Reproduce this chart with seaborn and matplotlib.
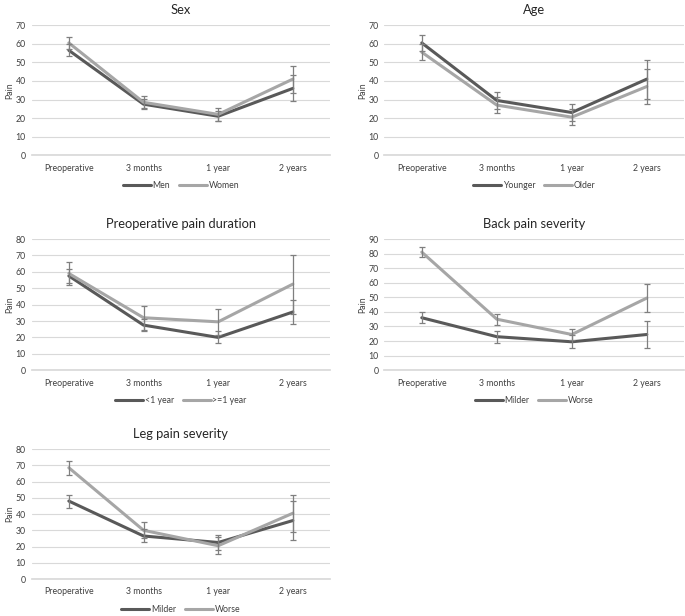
import pandas as pd
import matplotlib.pyplot as plt
import seaborn as sns

sns.set_theme(style="white")
plt.rcParams['font.family'] = ['Lato', 'DejaVu Sans']

# Data
times = ['Preoperative', '3 months', '1 year', '2 years']

sex_groups = ['Men', 'Women']
sex_mean = [[56.5, 27.5, 21.0, 36.0], [60.5, 28.5, 22.0, 41.0]]
sex_err = [[3.2, 2.6, 2.8, 7.0], [3.4, 3.2, 3.3, 7.3]]

age_groups = ['Younger', 'Older']
age_mean = [[60.5, 29.5, 23.0, 41.0], [55.5, 27.0, 20.5, 37.0]]
age_err = [[4.5, 4.6, 4.8, 10.5], [4.3, 4.3, 4.4, 9.2]]

dur_groups = ['<1 year', '>=1 year']
dur_mean = [[57.5, 27.5, 20.0, 35.5], [59.0, 32.0, 29.5, 52.5]]
dur_err = [[4.5, 3.8, 3.7, 7.5], [6.8, 7.2, 8.0, 18.0]]

back_groups = ['Milder', 'Worse']
back_mean = [[36.0, 23.0, 19.5, 24.5], [81.0, 35.0, 24.5, 49.5]]
back_err = [[3.6, 4.0, 4.5, 9.5], [3.3, 3.8, 4.0, 9.7]]

leg_groups = ['Milder', 'Worse']
leg_mean = [[48.0, 26.5, 22.5, 36.0], [68.5, 30.0, 20.5, 40.5]]
leg_err = [[4.0, 4.0, 4.5, 12.0], [4.3, 5.0, 5.2, 11.3]]

panels = [
    ('Sex', sex_groups, sex_mean, sex_err, 70),
    ('Age', age_groups, age_mean, age_err, 70),
    ('Preoperative pain duration', dur_groups, dur_mean, dur_err, 80),
    ('Back pain severity', back_groups, back_mean, back_err, 90),
    ('Leg pain severity', leg_groups, leg_mean, leg_err, 80),
]

positions = [
    [0.046, 0.748, 0.436, 0.211],
    [0.561, 0.748, 0.438, 0.211],
    [0.046, 0.399, 0.436, 0.213],
    [0.561, 0.399, 0.438, 0.213],
    [0.046, 0.060, 0.436, 0.211],
]

colors = ['#595959', '#a6a6a6']

fig = plt.figure(figsize=(6.85, 6.16), dpi=100)

for (title, groups, means, errs, ymax), pos in zip(panels, positions):
    ax = fig.add_axes(pos)
    rows = []
    for g, m, e in zip(groups, means, errs):
        for t, v, s in zip(times, m, e):
            rows.append({'time': t, 'pain': v, 'err': s, 'group': g})
    df = pd.DataFrame(rows)
    sns.lineplot(data=df, x='time', y='pain', hue='group', hue_order=groups,
                 palette=colors, linewidth=2.2, sort=False, ax=ax, zorder=3)
    for g in groups:
        sub = df[df['group'] == g]
        ax.errorbar(range(len(times)), sub['pain'], yerr=sub['err'], fmt='none',
                    ecolor='#7f7f7f', elinewidth=0.9, capsize=2.5, capthick=0.9, zorder=4)
    ax.set_xlim(-0.5, len(times) - 0.5)
    ax.set_ylim(0, ymax)
    ax.set_yticks(range(0, ymax + 1, 10))
    ax.grid(axis='y', color='#d9d9d9', linewidth=0.8)
    ax.set_axisbelow(True)
    for s in ['top', 'right', 'left']:
        ax.spines[s].set_visible(False)
    ax.spines['bottom'].set_color('#d9d9d9')
    ax.tick_params(axis='x', length=0, labelsize=6.3, colors='#404040', pad=6)
    ax.tick_params(axis='y', length=0, labelsize=6.3, colors='#404040', pad=4)
    ax.set_xlabel('')
    ax.set_ylabel('Pain', fontsize=6.3, color='#404040', labelpad=1)
    ax.set_title(title, fontsize=9.3, color='#262626', pad=8)
    ax.legend(loc='upper center', bbox_to_anchor=(0.5, -0.14), ncol=2, frameon=False,
              fontsize=6.3, handlelength=3.2, handletextpad=0.2, columnspacing=1.0,
              labelcolor='#404040')

fig.savefig('out.png', dpi=100)
plt.close()
